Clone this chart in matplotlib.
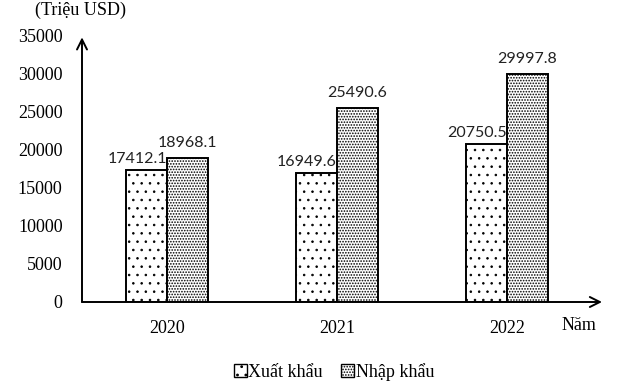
import matplotlib
matplotlib.use('Agg')
import matplotlib.pyplot as plt
import matplotlib.patches as mpatches
import numpy as np

years = ['2020', '2021', '2022']
xuat_khau = [17412.1, 16949.6, 20750.5]
nhap_khau = [18968.1, 25490.6, 29997.8]
yticks = [0, 5000, 10000, 15000, 20000, 25000, 30000, 35000]

serif = 'Liberation Serif'
fs = 13

fig = plt.figure(figsize=(6.24, 3.85), dpi=100)
ax = fig.add_axes([82/624, 83/385, 520/624, 266/385])

x = np.arange(len(years))
w = 0.24
plt.rcParams['hatch.linewidth'] = 0.6
plt.rcParams['hatch.color'] = '#333333'
ax.bar(x - w/2, xuat_khau, w, color='white', edgecolor='black', linewidth=1.4, hatch='..')
plt.rcParams['hatch.linewidth'] = 0.8
ax.bar(x + w/2, nhap_khau, w, color='white', edgecolor='black', linewidth=1.4, hatch='......')

for i in range(len(years)):
    ax.annotate(f'{xuat_khau[i]}', (x[i], xuat_khau[i]), xytext=(0, 3), textcoords='offset points',
                ha='right', va='bottom', fontsize=11.5, family='Lato', color='#222222')
    ax.annotate(f'{nhap_khau[i]}', (x[i] + w/2, nhap_khau[i]), xytext=(0, 6), textcoords='offset points',
                ha='center', va='bottom', fontsize=11.5, family='Lato', color='#222222')

ax.set_xlim(-0.5, 2.56)
ax.set_ylim(0, 35000)
ax.set_xticks(x)
ax.set_xticklabels(years, fontsize=fs, family=serif)
ax.set_yticks(yticks)
ax.set_yticklabels([str(t) for t in yticks], fontsize=fs, family=serif)
ax.tick_params(length=0, pad=14)
ax.tick_params(axis='x', pad=13)
for s in ax.spines.values():
    s.set_visible(False)

# axes with arrows
ax.annotate('', xy=(0, 0.995), xytext=(0, 0), xycoords='axes fraction',
            arrowprops=dict(arrowstyle='->', lw=1.4, color='black', mutation_scale=18, shrinkA=0, shrinkB=0))
ax.annotate('', xy=(1.0, 0), xytext=(0, 0), xycoords='axes fraction',
            arrowprops=dict(arrowstyle='->', lw=1.4, color='black', mutation_scale=18, shrinkA=0, shrinkB=0))

fig.text(35/624, 1 - 10/385, '(Triệu USD)', fontsize=fs, family=serif, va='center', ha='left')
fig.text(562/624, 1 - 326/385, 'Năm', fontsize=fs, family=serif, va='center', ha='left')

h1 = mpatches.Patch(facecolor='white', edgecolor='black', hatch='..', label='Xuất khẩu')
h2 = mpatches.Patch(facecolor='white', edgecolor='black', hatch='......', label='Nhập khẩu')
fig.legend(handles=[h1, h2], loc='center', bbox_to_anchor=(334/624, 1 - 372/385), ncol=2,
           frameon=False, prop={'family': serif, 'size': fs}, handlelength=0.7, handleheight=0.7,
           handletextpad=0.1, columnspacing=1.0)

fig.savefig('out.png', dpi=100)
